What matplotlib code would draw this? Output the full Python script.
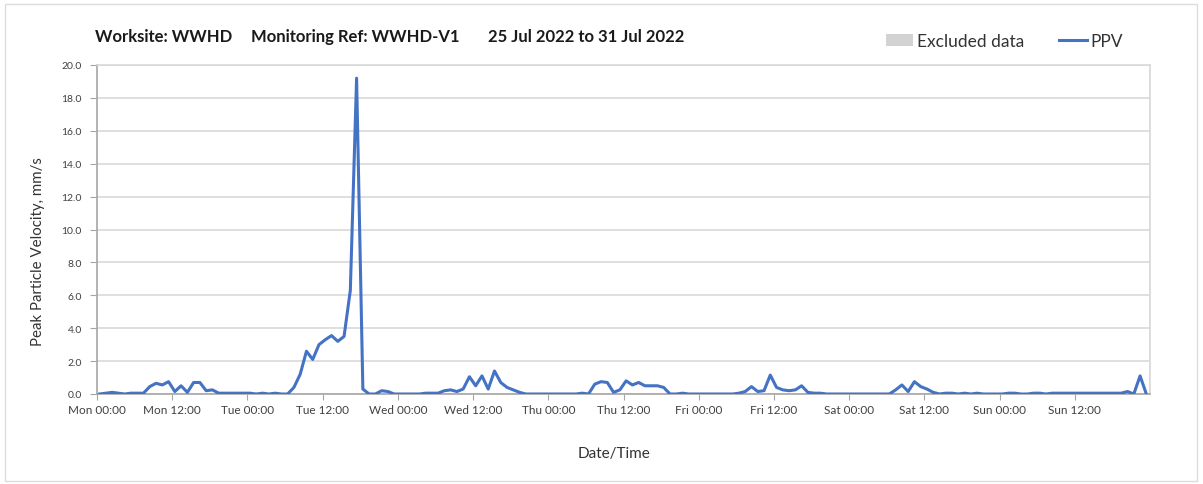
import numpy as np
import pandas as pd
import matplotlib
matplotlib.use("Agg")
import matplotlib.pyplot as plt
import matplotlib.dates as mdates
from matplotlib.patches import Patch, Rectangle
from matplotlib.lines import Line2D

# hourly peak particle velocity, mm/s (one list per day)
ppv_mon = [0.0, 0.05, 0.1, 0.05, 0.0, 0.05, 0.05, 0.05, 0.45, 0.65, 0.55, 0.75,
           0.15, 0.5, 0.1, 0.7, 0.7, 0.2, 0.25, 0.05, 0.05, 0.05, 0.05, 0.05]
ppv_tue = [0.05, 0.0, 0.05, 0.0, 0.05, 0.0, 0.0, 0.4, 1.2, 2.6, 2.1, 3.0,
           3.3, 3.55, 3.2, 3.5, 6.3, 19.2, 0.3, 0.0, 0.0, 0.2, 0.15, 0.0]
ppv_wed = [0.0, 0.0, 0.0, 0.0, 0.05, 0.05, 0.05, 0.2, 0.25, 0.15, 0.3, 1.05,
           0.5, 1.1, 0.3, 1.4, 0.7, 0.4, 0.25, 0.1, 0.0, 0.0, 0.0, 0.0]
ppv_thu = [0.0, 0.0, 0.0, 0.0, 0.0, 0.05, 0.0, 0.6, 0.75, 0.7, 0.1, 0.25,
           0.8, 0.55, 0.7, 0.5, 0.5, 0.5, 0.4, 0.0, 0.0, 0.05, 0.0, 0.0]
ppv_fri = [0.0, 0.0, 0.0, 0.0, 0.0, 0.0, 0.05, 0.15, 0.45, 0.15, 0.2, 1.15,
           0.4, 0.25, 0.2, 0.25, 0.5, 0.1, 0.05, 0.05, 0.0, 0.0, 0.0, 0.0]
ppv_sat = [0.0, 0.0, 0.0, 0.0, 0.0, 0.0, 0.0, 0.25, 0.55, 0.15, 0.75, 0.45,
           0.3, 0.1, 0.0, 0.05, 0.05, 0.0, 0.05, 0.0, 0.05, 0.0, 0.0, 0.0]
ppv_sun = [0.0, 0.05, 0.05, 0.0, 0.0, 0.05, 0.05, 0.0, 0.05, 0.05, 0.05, 0.05,
           0.05, 0.05, 0.05, 0.05, 0.05, 0.05, 0.05, 0.05, 0.15, 0.0, 1.1, 0.0]

ppv = ppv_mon + ppv_tue + ppv_wed + ppv_thu + ppv_fri + ppv_sat + ppv_sun
tijd = pd.date_range("2022-07-25 00:25", periods=len(ppv), freq="h")

start = pd.Timestamp("2022-07-25 00:00")
eind = pd.Timestamp("2022-08-01 00:00")
# labels om de 12 uur, de laatste (maandag 00:00) niet
labeltijden = pd.date_range(start, eind, freq="12h")[:-1]

blauw = "#4472C4"
grijs_tekst = "#404040"
grijs_as = "#a6a6a6"
grijs_grid = "#d9d9d9"

plt.rcParams["font.family"] = ["Lato", "DejaVu Sans"]

fig = plt.figure(figsize=(12.03, 4.85), dpi=100)
fig.patches.append(Rectangle((5 / 1203, 3 / 485), 1192 / 1203, 477 / 485,
                             transform=fig.transFigure, fill=False,
                             edgecolor="#dcdcdc", linewidth=1))

ax = fig.add_axes([97 / 1203, 90 / 485, 1053 / 1203, 329 / 485])
ax.plot(tijd, ppv, color=blauw, linewidth=2.2, solid_joinstyle="round", zorder=3)

ax.set_xlim(start, eind)
ax.set_ylim(0, 20)
ax.set_yticks(np.arange(0, 20.1, 2))
ax.yaxis.set_major_formatter(matplotlib.ticker.FormatStrFormatter("%.1f"))

ax.set_xticks(labeltijden)
ax.xaxis.set_major_formatter(mdates.DateFormatter("%a %H:%M"))
ax.xaxis.set_minor_locator(mdates.DayLocator())

# raster: horizontaal op elke 2.0, verticaal alleen op middernacht
ax.grid(axis="y", which="major", color=grijs_grid, linewidth=1.2)
ax.grid(axis="x", which="minor", color=grijs_grid, linewidth=1.2)
ax.set_axisbelow(True)

ax.tick_params(axis="x", which="major", length=4, color=grijs_as,
               labelsize=8.5, labelcolor=grijs_tekst, pad=3)
ax.tick_params(axis="x", which="minor", length=0)
ax.tick_params(axis="y", length=5, color=grijs_as, labelsize=7.5,
               labelcolor=grijs_tekst, pad=6)

for kant in ["left", "bottom"]:
    ax.spines[kant].set_color(grijs_as)
    ax.spines[kant].set_linewidth(1.2)
for kant in ["top", "right"]:
    ax.spines[kant].set_color(grijs_grid)
    ax.spines[kant].set_linewidth(1.2)

ax.set_ylabel("Peak Particle Velocity, mm/s", fontsize=10.8, color="#333333")
ax.yaxis.set_label_coords(-0.0495, 0.435)
ax.set_xlabel("Date/Time", fontsize=11, color="#333333")
ax.xaxis.set_label_coords(0.491, -0.157)

# kop in drie delen
kop_y = 1 - 37 / 485
kop = dict(fontsize=12, fontweight="bold", color="#1a1a1a", va="center")
fig.text(95 / 1203, kop_y, "Worksite: WWHD", **kop)
fig.text(251 / 1203, kop_y, "Monitoring Ref: WWHD-V1", **kop)
fig.text(488 / 1203, kop_y, "25 Jul 2022 to 31 Jul 2022", **kop)

handles = [Patch(facecolor="#d3d3d3", edgecolor="none", label="Excluded data"),
           Line2D([0], [0], color=blauw, linewidth=2.2, label="PPV")]
fig.legend(handles=handles, loc="center", bbox_to_anchor=(1004 / 1203, 1 - 42 / 485),
           ncol=2, frameon=False, fontsize=12.5, labelcolor="#333333",
           handlelength=1.6, handleheight=0.7, handletextpad=0.2, columnspacing=2.0)

plt.savefig("out.png", dpi=100)
plt.close(fig)
